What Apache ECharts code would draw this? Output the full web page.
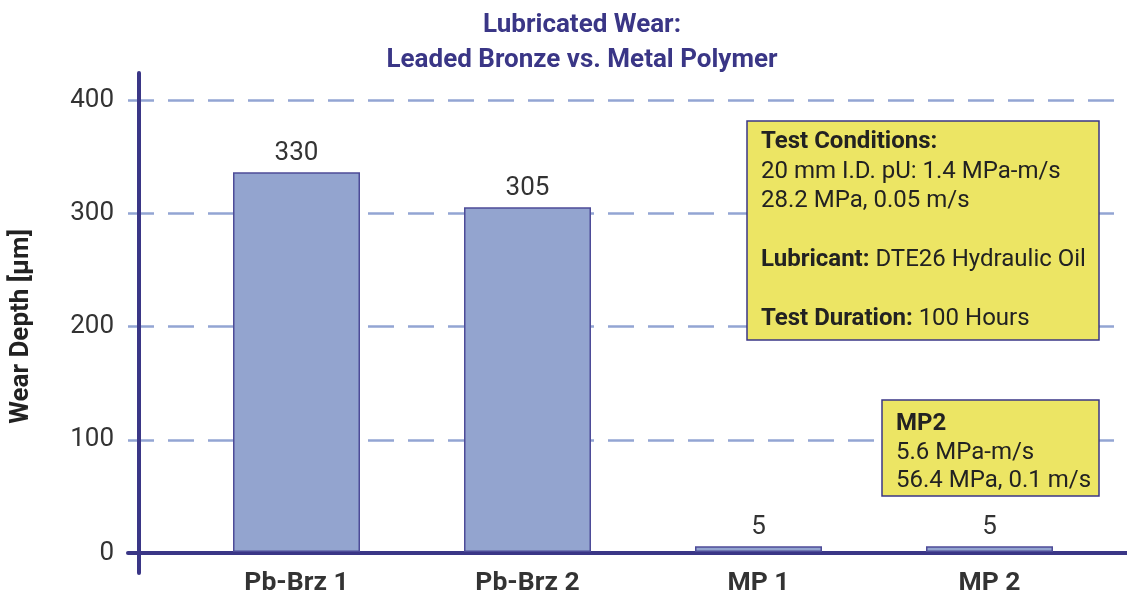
<!DOCTYPE html>
<html>
<head>
<meta charset="utf-8">
<script src="https://cdn.jsdelivr.net/npm/echarts@6/dist/echarts.min.js"></script>
<style>
  html, body { margin: 0; padding: 0; background: #fff; }
  #main { width: 1127px; height: 597px; }
</style>
</head>
<body>
<div id="main"></div>
<script>
// data
const categories = ['Pb-Brz 1', 'Pb-Brz 2', 'MP 1', 'MP 2'];
const wearDepth = [336, 305, 5, 5];          // bar heights as drawn
const valueLabels = ['330', '305', '5', '5']; // numbers printed over the bars
const yMin = 0, yMax = 400, yStep = 100;

const titleLines = ['Lubricated Wear:', 'Leaded Bronze vs. Metal Polymer'];
// [bold part, normal part]
const conditionLines = [
  ['Test Conditions:', ''],
  ['', '20 mm I.D. pU: 1.4 MPa-m/s'],
  ['', '28.2 MPa, 0.05 m/s'],
  ['', ''],
  ['Lubricant:', ' DTE26 Hydraulic Oil'],
  ['', ''],
  ['Test Duration:', ' 100 Hours']
];
const mp2Lines = [
  ['MP2', ''],
  ['', '5.6 MPa-m/s'],
  ['', '56.4 MPa, 0.1 m/s']
];

const navy = '#3a3686';
const gridBlue = '#93a5d3';
const textGrey = '#333333';
const font = 'Roboto';

function boxTexts(lines, x, y0, step) {
  var out = [];
  lines.forEach(function (l, i) {
    if (!l[0] && !l[1]) return;
    var t = (l[0] ? '{b|' + l[0] + '}' : '') + l[1];
    out.push({
      type: 'text', x: x, y: y0 + i * step, z: 101,
      style: {
        text: t, fontSize: 24, fontFamily: font, fill: '#222',
        textVerticalAlign: 'middle', verticalAlign: 'middle',
        rich: { b: { fontWeight: 'bold', fontSize: 24, fontFamily: font, fill: '#222' } }
      }
    });
  });
  return out;
}

var chart = echarts.init(document.getElementById('main'));

var option = {
  animation: false,
  title: {
    text: titleLines.join('\n'),
    left: 577, top: 3, textAlign: 'center',
    textStyle: { fontFamily: font, fontSize: 26, fontWeight: 'bold', color: navy, lineHeight: 35 }
  },
  grid: [
    // gridlines + x axis line
    { left: 122, right: 0, top: 100, bottom: 44 },
    // bars
    { left: 181, right: 22, top: 100, bottom: 44 },
    // long y axis line
    { left: 139, right: 0, top: 73, bottom: 24 }
  ],
  xAxis: [
    {
      gridIndex: 0, type: 'value', min: 0, max: 1,
      axisLine: { show: true, lineStyle: { color: navy, width: 4 } },
      axisTick: { show: false }, axisLabel: { show: false }, splitLine: { show: false }
    },
    {
      gridIndex: 1, type: 'category', data: categories,
      axisLine: { show: false }, axisTick: { show: false },
      axisLabel: { margin: 18, fontFamily: font, fontSize: 26.5, fontWeight: 'bold', color: textGrey }
    },
    { gridIndex: 2, type: 'value', show: false }
  ],
  yAxis: [
    {
      gridIndex: 0, type: 'value', min: yMin, max: yMax, interval: yStep,
      name: 'Wear Depth [μm]', nameLocation: 'middle', nameGap: 94,
      nameTextStyle: { fontFamily: font, fontSize: 26, fontWeight: 'bold', color: '#222' },
      axisLine: { show: false }, axisTick: { show: false },
      axisLabel: { margin: 14, fontFamily: font, fontSize: 26, color: textGrey },
      splitLine: { show: true, lineStyle: { color: gridBlue, width: 2.5, type: [26, 14] } }
    },
    {
      gridIndex: 1, type: 'value', min: yMin, max: yMax, interval: yStep,
      show: false, splitLine: { show: false }
    },
    {
      gridIndex: 2, type: 'value', min: 0, max: 1,
      axisLine: { show: true, lineStyle: { color: navy, width: 4 } },
      axisTick: { show: false }, axisLabel: { show: false }, splitLine: { show: false }
    }
  ],
  series: [{
    type: 'bar', xAxisIndex: 1, yAxisIndex: 1,
    data: wearDepth, barWidth: 127,
    itemStyle: { color: '#93a4cf', borderColor: '#4d4b98', borderWidth: 1.5 },
    label: {
      show: true, position: 'top', distance: 6,
      fontFamily: font, fontSize: 26, color: textGrey,
      formatter: function (p) { return valueLabels[p.dataIndex]; }
    },
    z: 3
  }],
  graphic: [
    { type: 'rect', z: 100, shape: { x: 747, y: 121, width: 352, height: 219 },
      style: { fill: '#ece564', stroke: navy, lineWidth: 1.5 } },
    { type: 'rect', z: 100, shape: { x: 882, y: 400, width: 217, height: 96 },
      style: { fill: '#ece564', stroke: navy, lineWidth: 1.5 } }
  ].concat(boxTexts(conditionLines, 761, 142, 29.5))
   .concat(boxTexts(mp2Lines, 896, 424, 28.5))
};

chart.setOption(option);
</script>
</body>
</html>
